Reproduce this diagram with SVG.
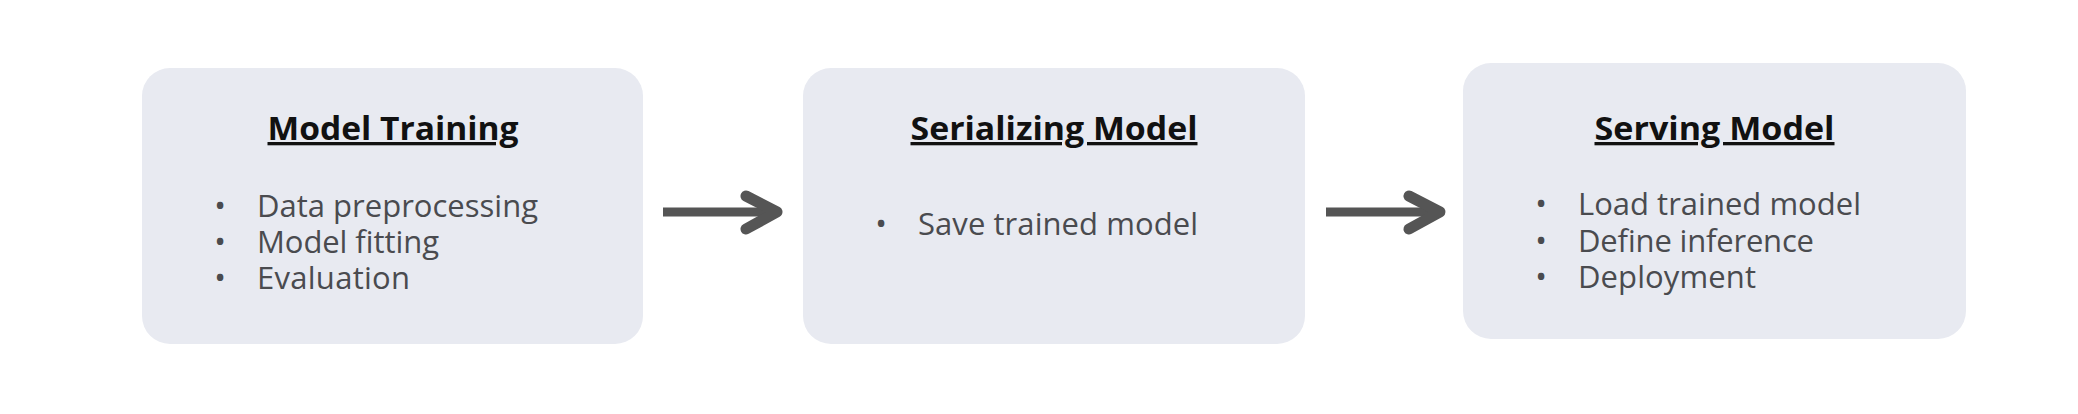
<svg xmlns="http://www.w3.org/2000/svg" width="2078" height="414" viewBox="0 0 2078 414">
  <style>
    .box { fill: #E8EAF1; }
    .title { font-family: "Open Sans", "Noto Sans", sans-serif; font-weight: 700; font-size: 33px; fill: #111111; text-anchor: middle; text-decoration: underline; }
    .item { font-family: "Open Sans", "Noto Sans", sans-serif; font-size: 31px; fill: #4A4B4F; }
    .bullet { font-family: "Open Sans", "Noto Sans", sans-serif; font-size: 31px; fill: #4A4B4F; text-anchor: middle; }
    .conn { stroke: #555555; fill: none; stroke-linecap: butt; }
    .shaft { stroke-width: 9; }
    .head { stroke-width: 11; stroke-linejoin: round; stroke-linecap: round; }
  </style>
  <rect width="2078" height="414" fill="#FFFFFF"/>

  <g id="node-model-training">
    <rect class="box" x="142" y="68" width="501" height="276" rx="28" ry="28"/>
    <text class="title" x="393" y="140" textLength="251" lengthAdjust="spacingAndGlyphs">Model Training</text>
    <text class="bullet" x="220" y="217">•</text>
    <text class="item" x="257" y="217" textLength="281">Data preprocessing</text>
    <text class="bullet" x="220" y="253">•</text>
    <text class="item" x="257" y="253" textLength="182">Model fitting</text>
    <text class="bullet" x="220" y="289">•</text>
    <text class="item" x="257" y="289" textLength="153">Evaluation</text>
  </g>

  <g id="node-serializing-model">
    <rect class="box" x="803" y="68" width="502" height="276" rx="28" ry="28"/>
    <text class="title" x="1054" y="140" textLength="287" lengthAdjust="spacingAndGlyphs">Serializing Model</text>
    <text class="bullet" x="881" y="235">•</text>
    <text class="item" x="918" y="235" textLength="280">Save trained model</text>
  </g>

  <g id="node-serving-model">
    <rect class="box" x="1463" y="63" width="503" height="276" rx="28" ry="28"/>
    <text class="title" x="1714.5" y="140" textLength="240" lengthAdjust="spacingAndGlyphs">Serving Model</text>
    <text class="bullet" x="1541" y="215">•</text>
    <text class="item" x="1578" y="215" textLength="283">Load trained model</text>
    <text class="bullet" x="1541" y="252">•</text>
    <text class="item" x="1578" y="252" textLength="236">Define inference</text>
    <text class="bullet" x="1541" y="288">•</text>
    <text class="item" x="1578" y="288" textLength="178">Deployment</text>
  </g>

  <g id="connectors">
    <g id="edge-training-serializing">
      <line class="conn shaft" x1="663" y1="212" x2="772" y2="212"/>
      <polyline class="conn head" points="746,196 777,212 746,229"/>
    </g>
    <g id="edge-serializing-serving">
      <line class="conn shaft" x1="1326" y1="212" x2="1435" y2="212"/>
      <polyline class="conn head" points="1409,196 1440,212 1409,229"/>
    </g>
  </g>
</svg>
